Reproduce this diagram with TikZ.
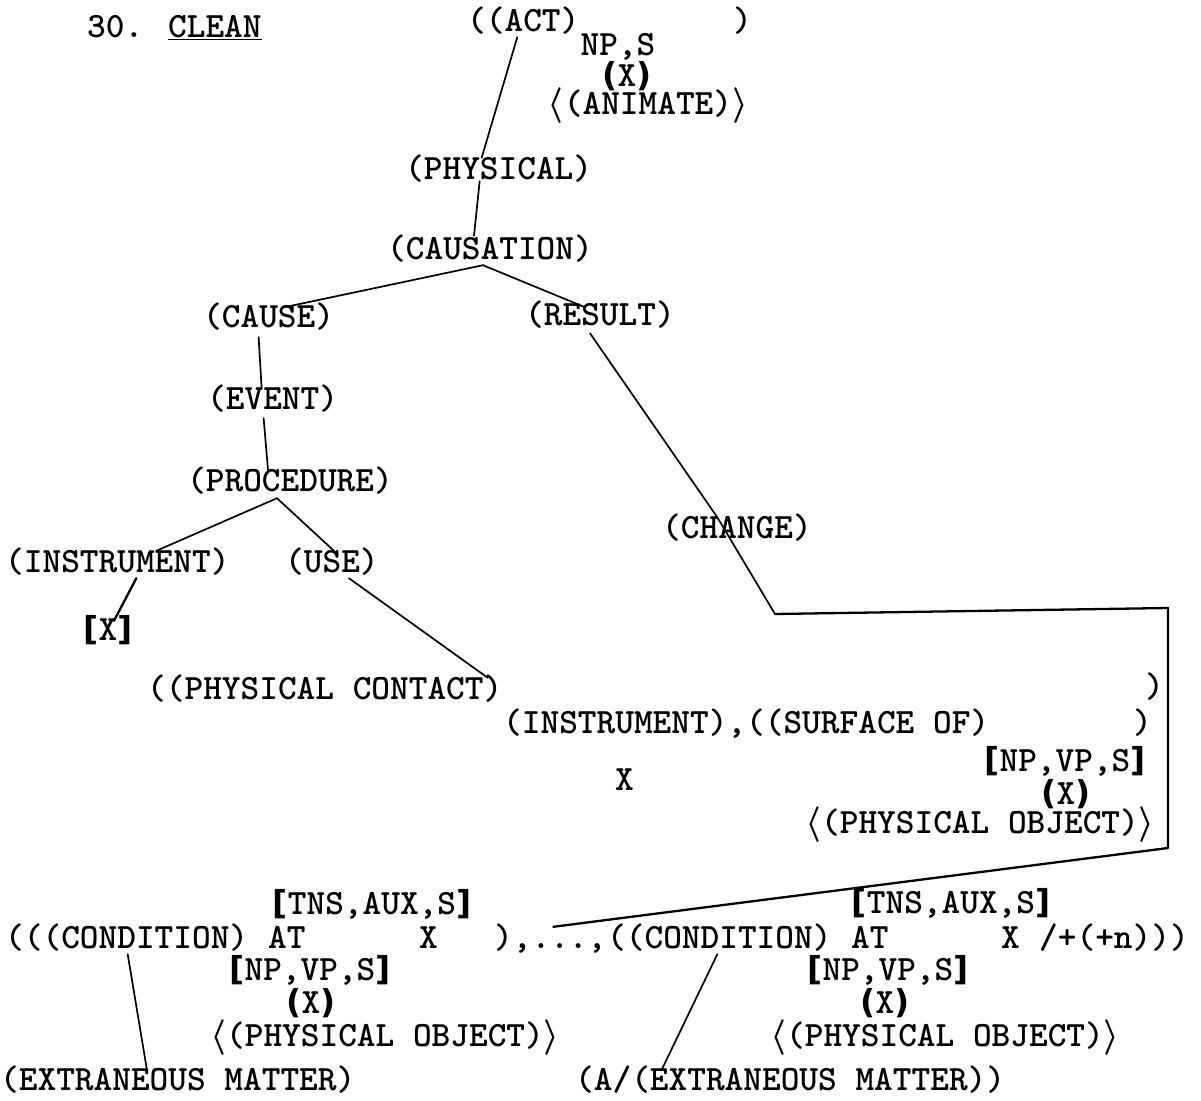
\documentclass[tikz,border=0pt]{standalone}
\usepackage{fix-cm}
\usepackage{bm}
\usepackage{fontspec}
\newfontfamily\heavyfont{DejaVu Sans}

% heavy hand-drawn marks around the selection features
\newcommand\bopen{{\heavyfont\bfseries\fontsize{33}{33}\selectfont(}}
\newcommand\bclose{{\heavyfont\bfseries\fontsize{33}{33}\selectfont)}}
\newcommand\sqopen{{\heavyfont\bfseries\fontsize{33}{33}\selectfont[}}
\newcommand\sqclose{{\heavyfont\bfseries\fontsize{33}{33}\selectfont]}}
\newcommand\agopen{\ensuremath{\bm{\langle}}}
\newcommand\agclose{\ensuremath{\bm{\rangle}}}

\tikzset{
  tw/.style={font=\fontsize{35.6}{40}\selectfont\ttfamily\bfseries,
    inner sep=0pt,text height=21pt,text depth=0pt,anchor=base west},
  twc/.style={tw,anchor=base},
  branch/.style={line width=1.7pt,line cap=round},
  frame/.style={line width=2.3pt,line cap=round,line join=round}
}

\begin{document}
\begin{tikzpicture}[x=1pt,y=-1pt]

\fill[white] (0,0) rectangle (1201,1100);
\useasboundingbox (0,0) rectangle (1201,1100);

% Heading
\node[tw] (title) at (87,37) {30. \underline{CLEAN}};

% Top of the tree
\node[tw] (act) at (467,31) {((ACT)};
\node[tw] (actr) at (733,31) {)};
\node[twc] (npsubj) at (618,55) {NP,S};
\node[twc] (xsubj) at (627,86) {\bopen X\bclose};
\node[twc] (anim) at (648,114) {\agopen(ANIMATE)\agclose};

\node[tw] (phys) at (405,179) {(PHYSICAL)};
\node[tw] (caus) at (387,259) {(CAUSATION)};
\node[tw] (cause) at (203,327) {(CAUSE)};
\node[tw] (result) at (525,325) {(RESULT)};
\node[tw] (event) at (207,409) {(EVENT)};
\node[tw] (proc) at (187,491) {(PROCEDURE)};
\node[tw] (change) at (662,538) {(CHANGE)};
\node[tw] (instr) at (5,572) {(INSTRUMENT)};
\node[tw] (use) at (285,572) {(USE)};
\node[twc] (xinstr) at (108,640) {\sqopen X\sqclose};

% Contact part
\node[tw] (contact) at (147,699) {((PHYSICAL CONTACT)};
\node[tw] (contactr) at (1145,697) {)};
\node[tw] (surf) at (503,733) {(INSTRUMENT),((SURFACE OF)};
\node[tw] (surfr) at (1133,733) {)};
\node[twc] (npsurf) at (1065,771) {\sqopen NP,VP,S\sqclose};
\node[tw] (xinst) at (615,790) {X};
\node[twc] (xsurf) at (1066,804) {\bopen X\bclose};
\node[twc] (objsurf) at (980,833) {\agopen(PHYSICAL OBJECT)\agclose};

% Condition line
\node[twc] (tnsa) at (372,914) {\sqopen TNS,AUX,S\sqclose};
\node[twc] (tnsb) at (951,913) {\sqopen TNS,AUX,S\sqclose};
\node[tw] (conda) at (5,948) {(((CONDITION)};
\node[tw] (ata) at (268,948) {AT};
\node[tw] (xa) at (419,948) {X};
\node[tw] (sep) at (494,948) {),...,};
\node[tw] (condb) at (607,948) {((CONDITION)};
\node[tw] (atb) at (851,948) {AT};
\node[tw] (xb) at (1001,948) {X};
\node[tw] (tail) at (1039,948) {/+(+n)))};
\node[twc] (npa) at (310,980) {\sqopen NP,VP,S\sqclose};
\node[twc] (npb) at (888,980) {\sqopen NP,VP,S\sqclose};
\node[twc] (xobja) at (311,1013) {\bopen X\bclose};
\node[twc] (xobjb) at (885,1013) {\bopen X\bclose};
\node[twc] (obja) at (385,1046) {\agopen(PHYSICAL OBJECT)\agclose};
\node[twc] (objb) at (945,1046) {\agopen(PHYSICAL OBJECT)\agclose};
\node[tw] (extra) at (0,1090) {(EXTRANEOUS MATTER)};
\node[tw] (extrb) at (575,1090) {(A/(EXTRANEOUS MATTER))};

% Branches
\draw[branch] ([xshift=-6pt,yshift=-6pt]act.south) -- ([xshift=-17pt]phys.north);
\draw[branch] ([xshift=-19pt,yshift=-2pt]phys.south) -- ([xshift=-16pt,yshift=2pt]caus.north);
\draw[branch] ([xshift=-7pt,yshift=-6pt]caus.south) -- ([xshift=13pt,yshift=-2pt]cause.north);
\draw[branch] ([xshift=-7pt,yshift=-6pt]caus.south) -- ([xshift=-16pt,yshift=-3pt]result.north);
\draw[branch] ([xshift=-10pt,yshift=-10pt]cause.south) -- ([xshift=-11pt]event.north);
\draw[branch] ([xshift=-9pt,yshift=-9pt]event.south) -- ([xshift=-22pt]proc.north);
\draw[branch] ([xshift=-13pt,yshift=-7pt]proc.south) -- ([xshift=39pt]instr.north);
\draw[branch] ([xshift=-13pt,yshift=-7pt]proc.south) -- ([xshift=2pt]use.north);
\draw[branch,line width=2.3pt] ([xshift=19pt,yshift=-6pt]instr.south) -- ([xshift=6pt,yshift=-2pt]xinstr.north);
\draw[branch] ([xshift=17pt,yshift=-6pt]use.south) -- ([xshift=163pt]contact.north);
\draw[branch] ([xshift=1pt,yshift=-6pt]conda.south) -- ([xshift=-31pt]extra.north);
\draw[branch] ([xshift=-2pt,yshift=-6pt]condb.south) -- ([xshift=-128pt]extrb.north);

% Result branch round the contact part
\coordinate (bendA) at (775,614);
\coordinate (bendB) at (1168,608);
\coordinate (bendC) at (1168,848);
\draw[branch] ([xshift=-10pt,yshift=-8pt]result.south) -- ([xshift=-20pt]change.north) -- (bendA);
\draw[frame] (bendA) -- (bendB) -- (bendC) -- ([xshift=3pt]sep.north);

\end{tikzpicture}
\end{document}
